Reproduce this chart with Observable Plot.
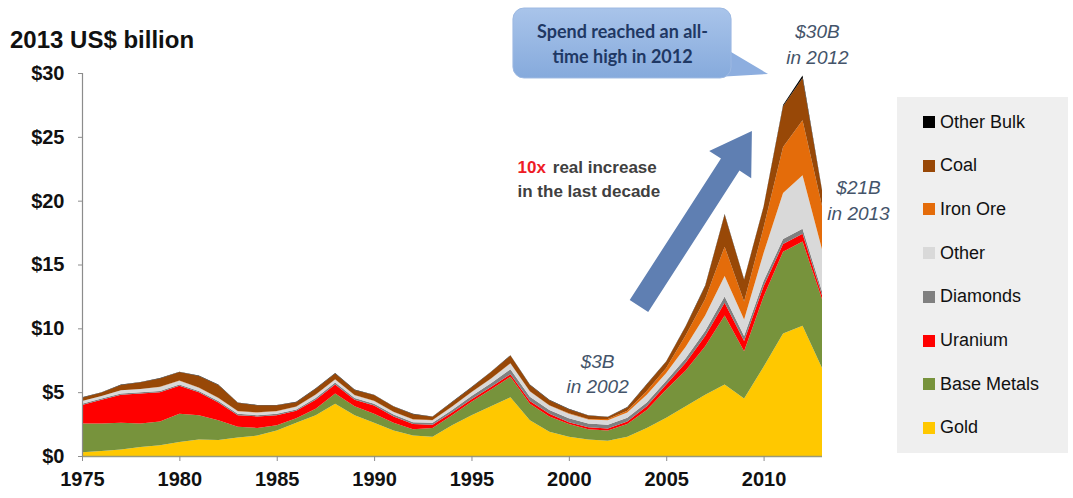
<!DOCTYPE html>
<html><head><meta charset="utf-8">
<script src="https://cdn.jsdelivr.net/npm/d3@7"></script>
<script src="https://cdn.jsdelivr.net/npm/@observablehq/plot@0.6"></script>
<style>
body{margin:0;background:#fff;font-family:"Liberation Sans",Arial,sans-serif;}
#wrap{position:relative;width:1073px;height:498px;overflow:hidden;background:#fff}
#chart{position:absolute;left:0;top:0}
#title{position:absolute;left:10px;top:28px;font-weight:bold;font-size:24px;color:#111;line-height:1}
#legend{position:absolute;left:897px;top:97px;width:171px;height:356px;background:#EFEFEF}
.li{position:absolute;left:26px;font-size:18px;color:#111;display:flex;align-items:center;height:20px;margin-top:-10px}
.sw{width:12px;height:12px;margin-right:5px}
</style></head>
<body><div id="wrap"><div id="chart"></div><div id="title">2013 US$ billion</div><div id="legend"></div></div>
<script>
const years = [1975,1976,1977,1978,1979,1980,1981,1982,1983,1984,1985,1986,1987,1988,1989,1990,1991,1992,1993,1994,1995,1996,1997,1998,1999,2000,2001,2002,2003,2004,2005,2006,2007,2008,2009,2010,2011,2012,2013];
const gold =       [0.3,0.4,0.5,0.7,0.85,1.1,1.3,1.25,1.45,1.6, 2.0,2.6,3.2,4.1,3.2,2.6,2.0,1.6,1.5,2.4, 3.2,3.9,4.6,2.8,1.9,1.5,1.3,1.2,1.5,2.2, 3.0,3.9,4.8,5.6,4.5,7.0,9.6,10.2,6.9];
const baseMetals = [2.25,2.15,2.1,1.85,1.85,2.2,1.9,1.55,0.85,0.6, 0.4,0.35,0.5,0.8,0.7,0.7,0.6,0.5,0.7,0.8, 1.05,1.3,1.6,1.3,1.2,1.0,0.8,0.8,1.0,1.4, 2.2,2.8,3.8,5.4,3.7,5.5,6.4,6.6,5.4];
const uranium =    [1.45,1.85,2.2,2.35,2.3,2.2,1.8,1.4,0.9,0.9, 0.8,0.6,0.7,0.7,0.5,0.65,0.5,0.4,0.25,0.2, 0.2,0.2,0.2,0.2,0.2,0.15,0.15,0.15,0.2,0.3, 0.4,0.6,0.8,1.0,0.8,0.8,0.6,0.6,0.3];
const diamonds =   [0.1,0.1,0.1,0.1,0.1,0.1,0.1,0.1,0.1,0.1, 0.1,0.1,0.15,0.15,0.15,0.15,0.15,0.15,0.15,0.2, 0.25,0.3,0.4,0.35,0.3,0.3,0.3,0.3,0.3,0.3, 0.3,0.35,0.4,0.5,0.4,0.4,0.4,0.4,0.3];
const other =      [0.2,0.2,0.25,0.25,0.3,0.3,0.25,0.25,0.2,0.2, 0.2,0.2,0.25,0.25,0.2,0.2,0.2,0.2,0.2,0.25, 0.3,0.35,0.45,0.4,0.35,0.35,0.3,0.35,0.4,0.6, 0.6,0.9,1.2,1.6,1.3,2.2,3.6,4.2,3.3];
const ironOre =    [0,0,0,0,0.02,0.02,0.02,0.02,0.02,0.02, 0.02,0.02,0.02,0.02,0.02,0.02,0.02,0.02,0.02,0.02, 0.02,0.02,0.02,0.02,0.02,0.05,0.05,0.1,0.15,0.3, 0.4,0.9,1.3,2.3,1.4,2.0,3.6,4.3,3.4];
const coal =       [0.27,0.27,0.42,0.52,0.65,0.65,0.9,1.0,0.65,0.55, 0.45,0.35,0.45,0.45,0.4,0.45,0.4,0.4,0.25,0.35, 0.35,0.5,0.6,0.5,0.4,0.32,0.27,0.15,0.25,0.5, 0.5,0.7,1.0,2.5,1.7,1.6,3.2,3.3,1.2];
const otherBulk =  [0.03,0.03,0.03,0.03,0.03,0.03,0.03,0.03,0.03,0.03, 0.03,0.03,0.03,0.03,0.03,0.03,0.03,0.03,0.03,0.03, 0.03,0.03,0.03,0.03,0.03,0.03,0.03,0.03,0.03,0.03, 0.03,0.03,0.05,0.05,0.05,0.05,0.1,0.2,0.05];

const seriesNames  = ["Gold","Base Metals","Uranium","Diamonds","Other","Iron Ore","Coal","Other Bulk"];
const seriesColors = ["#FFC800","#77933C","#FF0000","#808080","#D9D9D9","#E46C0A","#984807","#000000"];
const seriesValues = [gold, baseMetals, uranium, diamonds, other, ironOre, coal, otherBulk];
const yTicks = [0,5,10,15,20,25,30];
const xTicks = [1975,1980,1985,1990,1995,2000,2005,2010];

// annotation anchors (data units)
const valueNotes = [
  {x:2012.74, y:32.4, text:"$30B\nin 2012"},
  {x:2014.85, y:20.17, text:"$21B\nin 2013"},
  {x:2001.45, y:6.6, text:"$3B\nin 2002"}
];
const calloutLines = [
  {x:2002.73, y:33.2, text:"Spend reached an all-"},
  {x:2002.73, y:31.25, text:"time high in 2012"}
];
const growthRed = [{x:1997.34, y:22.64, text:"10x"}];
const growthDark = [
  {x:1999.15, y:22.64, text:"real increase"},
  {x:1997.34, y:20.76, text:"in the last decade"}
];
const arrowAnchor = {tail:[2003.6, 11.75], tip:[2009.4, 25.46]};
const calloutBox = {x1:1997.13, x2:2008.33, yTop:35.09, yBottom:29.61, tip:[2010.23, 29.92]};

const rows = [];
seriesNames.forEach((s, i) => years.forEach((yr, j) => rows.push({year: yr, series: s, value: seriesValues[i][j]})));

function annotationShapes(index, scales, values, dimensions) {
  const sx = scales.x, sy = scales.y;
  const g = d3.create("svg:g");
  // block arrow
  const T = [sx(arrowAnchor.tail[0]), sy(arrowAnchor.tail[1])];
  const P = [sx(arrowAnchor.tip[0]), sy(arrowAnchor.tip[1])];
  const dx = P[0]-T[0], dy = P[1]-T[1], L = Math.hypot(dx, dy);
  const u = [dx/L, dy/L], n = [-u[1], u[0]];
  const hl = 40, sw = 11, hw = 25;
  const B = [P[0]-hl*u[0], P[1]-hl*u[1]];
  const pt = (c, k) => [c[0]+k*n[0], c[1]+k*n[1]];
  const poly = [pt(T,sw), pt(B,sw), pt(B,hw), P, pt(B,-hw), pt(B,-sw), pt(T,-sw)];
  g.append("path").attr("d", "M" + poly.map(p => p.join(",")).join("L") + "Z").attr("fill", "#5F7FB2");
  // callout bubble
  const x1 = sx(calloutBox.x1), x2 = sx(calloutBox.x2), y1 = sy(calloutBox.yTop), y2 = sy(calloutBox.yBottom);
  const tip = [sx(calloutBox.tip[0]), sy(calloutBox.tip[1])];
  const defs = g.append("defs");
  const grad = defs.append("linearGradient").attr("id","cg").attr("x1",0).attr("y1",0).attr("x2",0).attr("y2",1);
  grad.append("stop").attr("offset","0%").attr("stop-color","#A9C4EA");
  grad.append("stop").attr("offset","100%").attr("stop-color","#86AADC");
  g.append("path")
    .attr("d", `M${x2-32},${y2}L${x2},${y2-26}L${tip[0]},${tip[1]}Z`)
    .attr("fill", "#8DAEDF");
  g.append("rect").attr("x", x1).attr("y", y1).attr("width", x2-x1).attr("height", y2-y1)
    .attr("rx", 11).attr("fill", "url(#cg)").attr("stroke", "#9DB9E2").attr("stroke-width", 1);
  return g.node();
}

const chart = Plot.plot({
  width: 1073, height: 498,
  marginLeft: 82, marginRight: 251, marginTop: 73, marginBottom: 42,
  style: {fontFamily: "Liberation Sans, Arial, sans-serif", background: "transparent", overflow: "visible"},
  x: {domain: [1975, 2013], label: null},
  y: {domain: [0, 30], label: null},
  color: {domain: seriesNames, range: seriesColors},
  marks: [
    Plot.areaY(rows, {x: "year", y: "value", z: "series", fill: "series", order: seriesNames, curve: "linear"}),
    Plot.ruleX([1975], {stroke: "#8c8c8c", strokeWidth: 1.2}),
    Plot.ruleY([0], {stroke: "#9a9a7a", strokeWidth: 1.5}),
    Plot.axisY({ticks: yTicks, tickFormat: d => "$" + d, tickSize: 4, tickPadding: 14, fontSize: 20, fontWeight: "bold", fill: "#111", stroke: "#8c8c8c", label: null}),
    Plot.axisX({ticks: xTicks, tickFormat: d => String(d), tickSize: 5, tickPadding: 10, fontSize: 20, fontWeight: "bold", fill: "#111", stroke: "#8c8c8c", label: null}),
    annotationShapes,
    Plot.text(valueNotes, {x: "x", y: "y", text: "text", fontSize: 19, fontStyle: "italic", fill: "#44546A", lineHeight: 1.35}),
    Plot.text(calloutLines, {x: "x", y: "y", text: "text", fontSize: 18, fontWeight: "bold", fill: "#1F3864", fontFamily: "Lato, Liberation Sans, sans-serif"}),
    Plot.text(growthRed, {x: "x", y: "y", text: "text", fontSize: 17, fontWeight: "bold", fill: "#EE1C25", textAnchor: "start"}),
    Plot.text(growthDark, {x: "x", y: "y", text: "text", fontSize: 17, fontWeight: "bold", fill: "#404040", textAnchor: "start"})
  ]
});
document.getElementById("chart").appendChild(chart);

// legend (top to bottom)
const legend = document.getElementById("legend");
const legendOrder = seriesNames.slice().reverse();
legendOrder.forEach((name, i) => {
  const div = document.createElement("div");
  div.className = "li";
  div.style.top = (25 + i * 43.7) + "px";
  const sw = document.createElement("span");
  sw.className = "sw";
  sw.style.background = seriesColors[seriesNames.indexOf(name)];
  div.appendChild(sw);
  div.appendChild(document.createTextNode(name));
  legend.appendChild(div);
});
</script>
</body></html>
